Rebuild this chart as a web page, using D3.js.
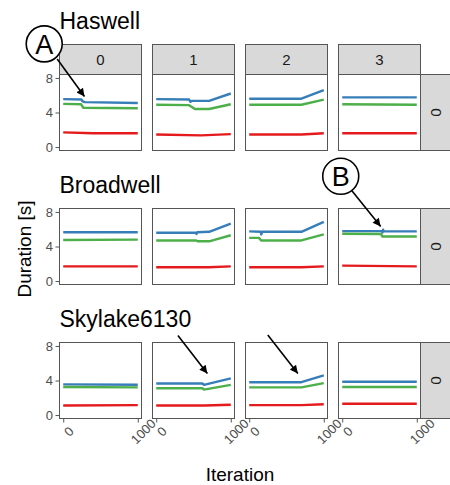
<!DOCTYPE html>
<html>
<head>
<meta charset="utf-8">
<script src="https://cdn.jsdelivr.net/npm/d3@7"></script>
<style>
	body { margin: 0; background: #fff; }
	svg { display: block; font-family: "Liberation Sans", Arial, sans-serif; }
</style>
</head>
<body>
<svg id="wykres"></svg>
<script>
// Below: data, [iteration, duration] break points of each series, one list per config column

let machines = ['Haswell', 'Broadwell', 'Skylake6130'];
let configs = ['0', '1', '2', '3'];
let rowStrip = '0';
let yTicks = [0, 4, 8];
let xTicks = [0, 1000];
let colors = ['#377EB8', '#4DAF4A', '#E41A1C'];

let haswellBlue = [
	[[0, 5.55], [245, 5.5], [260, 5.3], [290, 5.2], [1000, 5.1]],
	[[0, 5.55], [440, 5.5], [460, 5.25], [480, 5.35], [710, 5.35], [1000, 6.2]],
	[[0, 5.6], [700, 5.6], [1000, 6.6]],
	[[0, 5.75], [1000, 5.75]]
];
let haswellGreen = [
	[[0, 5.0], [240, 4.95], [270, 4.55], [1000, 4.5]],
	[[0, 4.9], [440, 4.85], [520, 4.4], [710, 4.4], [1000, 4.95]],
	[[0, 4.9], [700, 4.9], [1000, 5.5]],
	[[0, 4.95], [1000, 4.9]]
];
let haswellRed = [
	[[0, 1.7], [400, 1.6], [1000, 1.6]],
	[[0, 1.45], [600, 1.35], [1000, 1.5]],
	[[0, 1.45], [700, 1.45], [1000, 1.6]],
	[[0, 1.6], [1000, 1.6]]
];

let broadwellBlue = [
	[[0, 5.65], [1000, 5.65]],
	[[0, 5.6], [530, 5.6], [540, 5.45], [550, 5.65], [710, 5.7], [1000, 6.65]],
	[[0, 5.75], [155, 5.7], [162, 5.4], [172, 5.7], [700, 5.7], [1000, 6.85]],
	[[0, 5.78], [530, 5.78], [540, 5.62], [548, 5.95], [556, 5.75], [1000, 5.75]]
];
let broadwellGreen = [
	[[0, 4.75], [1000, 4.8]],
	[[0, 4.7], [530, 4.7], [560, 4.6], [710, 4.6], [1000, 5.3]],
	[[0, 5.0], [130, 5.0], [160, 4.7], [700, 4.7], [1000, 5.4]],
	[[0, 5.47], [520, 5.45], [540, 5.15], [1000, 5.15]]
];
let broadwellRed = [
	[[0, 1.7], [1000, 1.7]],
	[[0, 1.6], [700, 1.6], [1000, 1.7]],
	[[0, 1.6], [700, 1.6], [1000, 1.7]],
	[[0, 1.78], [1000, 1.7]]
];

let skylakeBlue = [
	[[0, 3.55], [1000, 3.5]],
	[[0, 3.65], [620, 3.65], [640, 3.5], [1000, 4.25]],
	[[0, 3.8], [700, 3.8], [1000, 4.6]],
	[[0, 3.85], [1000, 3.85]]
];
let skylakeGreen = [
	[[0, 3.25], [1000, 3.2]],
	[[0, 3.1], [620, 3.1], [640, 2.95], [1000, 3.5]],
	[[0, 3.2], [700, 3.2], [1000, 3.7]],
	[[0, 3.25], [1000, 3.25]]
];
let skylakeRed = [
	[[0, 1.1], [1000, 1.15]],
	[[0, 1.1], [650, 1.1], [1000, 1.2]],
	[[0, 1.15], [700, 1.15], [1000, 1.25]],
	[[0, 1.3], [1000, 1.3]]
];

let series = [
	[haswellBlue, haswellGreen, haswellRed],
	[broadwellBlue, broadwellGreen, broadwellRed],
	[skylakeBlue, skylakeGreen, skylakeRed]
];

// annotations, in the data units of the panel they belong to
let circles = [
	{label: 'A', row: 0, col: 0, it: -255, v: 11.95},
	{label: 'B', row: 1, col: 3, it: -20, v: 12.13}
];
let arrows = [
	{row: 0, col: 0, from: [-81, 10.2], to: [285, 5.85]},
	{row: 1, col: 3, from: [127, 10.48], to: [516, 6.32]},
	{row: 2, col: 1, from: [291, 9.21], to: [686, 4.81]},
	{row: 2, col: 2, from: [249, 9.27], to: [652, 4.81]}
];

// layout
let left = 59.5;
let firstTop = 74.5;
let rowStep = 134;
let pw = 82;
let ph = 76;
let gapX = 11;
let stripH = 30;
let stripW = 31;
let border = '#555';

rysuj();

function rysuj() {
	let svg = d3.select('#wykres').attr('width', 450).attr('height', 485);

	let x = d3.scaleLinear()
		.domain([-50, 1050])
		.range([0, pw]);

	let y = d3.scaleLinear()
		.domain([-0.4, 8.4])
		.range([ph, 0]);

	let line = d3.line()
		.x(function(d) {return x(d[0]); })
		.y(function(d) {return y(d[1]); });

	svg.append('defs').append('marker')
		.attr('id', 'grot')
		.attr('viewBox', '0 0 10 10')
		.attr('markerUnits', 'userSpaceOnUse')
		.attr('markerWidth', 9)
		.attr('markerHeight', 8)
		.attr('refX', 10)
		.attr('refY', 5)
		.attr('orient', 'auto')
		.append('path')
		.attr('d', 'M0,0L10,5L0,10z')
		.attr('fill', '#000');

	let panelX = function(c) {return left + c * (pw + gapX); };
	let panelY = function(r) {return firstTop + r * rowStep; };

	for (let r = 0; r < machines.length; r++) {
		let top = panelY(r);

		// machine title
		svg.append('text')
			.attr('x', left)
			.attr('y', (r == 0 ? top - stripH : top) - 16)
			.attr('font-size', 23)
			.attr('fill', '#000')
			.text(machines[r]);

		for (let c = 0; c < configs.length; c++) {
			let g = svg.append('g').attr('transform', 'translate(' + panelX(c) + ',' + top + ')');

			g.append('rect').attr('width', pw).attr('height', ph).attr('fill', '#fff');

			for (let s = 0; s < colors.length; s++) {
				g.append('path')
					.datum(series[r][s][c])
					.attr('d', line)
					.attr('fill', 'none')
					.attr('stroke', colors[s])
					.attr('stroke-width', 2.4)
					.attr('stroke-linejoin', 'round');
			}

			g.append('rect')
				.attr('width', pw).attr('height', ph)
				.attr('fill', 'none').attr('stroke', border).attr('stroke-width', 1);

			// column strip
			if (r == 0) {
				g.append('rect')
					.attr('y', -stripH).attr('width', pw).attr('height', stripH)
					.attr('fill', '#D9D9D9').attr('stroke', border);
				g.append('text')
					.attr('x', pw / 2).attr('y', -stripH / 2)
					.attr('dy', '0.36em')
					.attr('text-anchor', 'middle')
					.attr('font-size', 15)
					.attr('fill', '#1A1A1A')
					.text(configs[c]);
			}

			// row strip
			if (c == configs.length - 1) {
				g.append('rect')
					.attr('x', pw).attr('width', stripW).attr('height', ph)
					.attr('fill', '#D9D9D9').attr('stroke', border);
				g.append('text')
					.attr('transform', 'translate(' + (pw + stripW / 2) + ',' + (ph / 2) + ') rotate(90)')
					.attr('dy', '0.36em')
					.attr('text-anchor', 'middle')
					.attr('font-size', 15)
					.attr('fill', '#1A1A1A')
					.text(rowStrip);
			}

			if (c == 0) {
				let yAxis = d3.axisLeft(y).tickValues(yTicks).tickSize(4).tickPadding(2.5);
				let ga = g.append('g').call(yAxis);
				ga.select('.domain').remove();
				ga.attr('font-family', null);
				ga.selectAll('line').attr('stroke', border);
				ga.selectAll('text')
					.attr('font-size', 13)
					.attr('fill', '#4D4D4D');
			}

			if (r == machines.length - 1) {
				let xAxis = d3.axisBottom(x).tickValues(xTicks).tickSize(4).tickFormat(d3.format('d'));
				let gb = g.append('g').attr('transform', 'translate(0,' + ph + ')').call(xAxis);
				gb.select('.domain').remove();
				gb.attr('font-family', null);
				gb.selectAll('line').attr('stroke', border);
				gb.selectAll('text')
					.attr('y', null).attr('dy', '0.35em')
					.attr('transform', 'translate(5,13) rotate(-45)')
					.attr('text-anchor', 'middle')
					.attr('font-size', 13)
					.attr('fill', '#4D4D4D');
			}
		}
	}

	// axis titles
	svg.append('text')
		.attr('x', left + (4 * pw + 3 * gapX) / 2)
		.attr('y', 480.5)
		.attr('text-anchor', 'middle')
		.attr('font-size', 19)
		.text('Iteration');

	svg.append('text')
		.attr('transform', 'translate(30.5,249) rotate(-90)')
		.attr('text-anchor', 'middle')
		.attr('font-size', 19)
		.text('Duration [s]');

	// annotations
	for (let a of arrows) {
		let ox = panelX(a.col), oy = panelY(a.row);
		svg.append('line')
			.attr('x1', ox + x(a.from[0])).attr('y1', oy + y(a.from[1]))
			.attr('x2', ox + x(a.to[0])).attr('y2', oy + y(a.to[1]))
			.attr('stroke', '#000')
			.attr('stroke-width', 1.6)
			.attr('marker-end', 'url(#grot)');
	}

	for (let k of circles) {
		let cx = panelX(k.col) + x(k.it), cy = panelY(k.row) + y(k.v);
		svg.append('circle')
			.attr('cx', cx).attr('cy', cy).attr('r', 18)
			.attr('fill', '#fff').attr('stroke', '#000').attr('stroke-width', 1.6);
		svg.append('text')
			.attr('x', cx).attr('y', cy)
			.attr('dy', '0.36em')
			.attr('text-anchor', 'middle')
			.attr('font-size', 27)
			.text(k.label);
	}
}
</script>
</body>
</html>
